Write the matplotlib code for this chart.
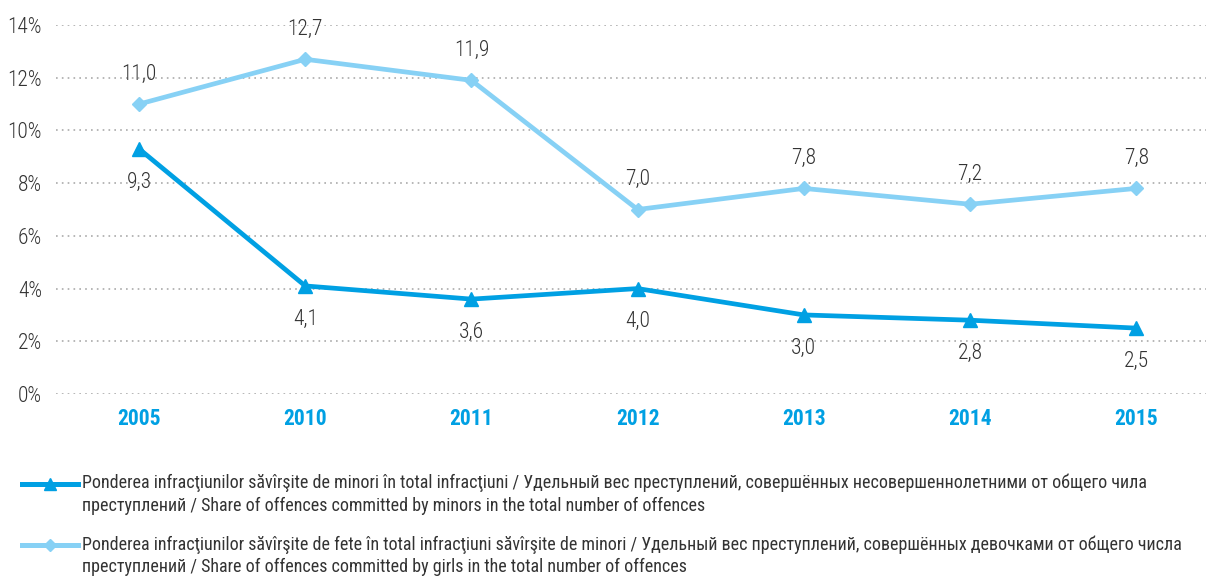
import matplotlib
matplotlib.use("Agg")
import matplotlib.pyplot as plt
from matplotlib.lines import Line2D
from matplotlib import font_manager

names = {f.name for f in font_manager.fontManager.ttflist}
fam = [f for f in ['Roboto Condensed', 'Liberation Sans Narrow', 'Roboto', 'DejaVu Sans'] if f in names]
plt.rcParams['font.family'] = fam

years = ['2005', '2010', '2011', '2012', '2013', '2014', '2015']
minors = [9.3, 4.1, 3.6, 4.0, 3.0, 2.8, 2.5]
girls = [11.0, 12.7, 11.9, 7.0, 7.8, 7.2, 7.8]
yticks = [0, 2, 4, 6, 8, 10, 12, 14]
label_minors = ("Ponderea infracţiunilor săvîrşite de minori în total infracţiuni / Удельный вес преступлений, "
                "совершённых несовершеннолетними от общего чила\nпреступлений / Share of offences committed by minors in the total number of offences")
label_girls = ("Ponderea infracţiunilor săvîrşite de fete în total infracţiuni săvîrşite de minori / Удельный вес преступлений, "
               "совершённых девочками от общего числа\nпреступлений / Share of offences committed by girls in the total number of offences")

dark = '#00A0E3'
light = '#87D1F5'
txt = '#333333'

fig = plt.figure(figsize=(12.08, 5.76), dpi=100)
ax = fig.add_axes([56/1208, 1-394/576, 1150/1208, 369/576])
x = list(range(len(years)))
ax.plot(x, girls, color=light, lw=3.4, marker='D', ms=7, zorder=3)
ax.plot(x, minors, color=dark, lw=3.4, marker='^', ms=10.5, zorder=4)
for xi, v in zip(x, girls):
    ax.annotate(f"{v:.1f}".replace('.', ','), (xi, v), xytext=(0, 21.5), textcoords='offset points',
                ha='center', va='center', fontsize=15.5, color=txt, fontweight='light')
for xi, v in zip(x, minors):
    ax.annotate(f"{v:.1f}".replace('.', ','), (xi, v), xytext=(0, -24), textcoords='offset points',
                ha='center', va='center', fontsize=15.5, color=txt, fontweight='light')

ax.set_xlim(-0.5, 6.42)
ax.set_ylim(0, 14)
ax.set_yticks(yticks)
ax.set_yticklabels([f"{t}%" for t in yticks], fontsize=15.5, color=txt, fontweight='light')
ax.set_xticks(x)
ax.set_xticklabels(years, fontsize=15.5, fontweight='bold', color=dark)
ax.tick_params(length=0)
ax.tick_params(axis='x', pad=10)
ax.tick_params(axis='y', pad=10)
ax.grid(axis='y', color='#AAAAAA', linestyle=(0, (1, 2.5)), lw=1.2)
for s in ax.spines.values():
    s.set_visible(False)

# legend drawn manually
for yy, col, mk, ms, lab in [(484, dark, '^', 8, label_minors), (545, light, 'D', 6, label_girls)]:
    yf = 1 - yy/576
    fig.add_artist(Line2D([22/1208, 78/1208], [yf, yf], color=col, lw=3.6, transform=fig.transFigure))
    fig.add_artist(Line2D([50/1208], [yf], color=col, marker=mk, ms=ms, transform=fig.transFigure))
    fig.text(82/1208, yf + 10/576, lab, fontsize=13, color=txt, va='top', ha='left', linespacing=1.3)

fig.savefig('out.png', dpi=100)
